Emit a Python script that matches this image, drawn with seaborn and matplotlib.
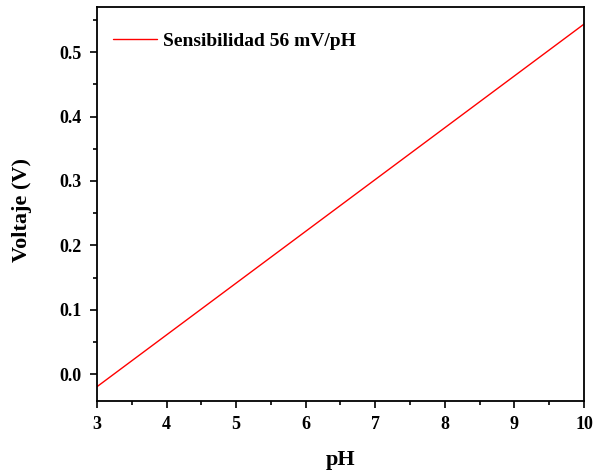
import matplotlib
matplotlib.use("Agg")
import matplotlib.pyplot as plt
import matplotlib.transforms as mtransforms
import seaborn as sns
import pandas as pd
from matplotlib.ticker import MultipleLocator, FormatStrFormatter

ph = [3, 10]
voltage = [-0.0192, 0.5434]
label = "Sensibilidad 56 mV/pH"

sns.set_style("ticks")
plt.rcParams['font.family'] = ['Liberation Serif', 'DejaVu Serif']
plt.rcParams['font.weight'] = 'bold'
for k in ['text.color', 'axes.labelcolor', 'xtick.color', 'ytick.color', 'axes.edgecolor']:
    plt.rcParams[k] = 'black'

df = pd.DataFrame({"pH": ph, "Voltaje": voltage})

fig = plt.figure(figsize=(5.95, 4.74), dpi=100)
ax = fig.add_axes([0.163, 0.154, 0.8185, 0.831])
sns.lineplot(data=df, x="pH", y="Voltaje", ax=ax, color="red", linewidth=1.0, label=label)

ax.set_xlim(3, 10)
ax.set_ylim(-0.0414, 0.5698)
ax.xaxis.set_major_locator(MultipleLocator(1))
ax.xaxis.set_minor_locator(MultipleLocator(0.5))
ax.yaxis.set_major_locator(MultipleLocator(0.1))
ax.yaxis.set_minor_locator(MultipleLocator(0.05))
ax.yaxis.set_major_formatter(FormatStrFormatter('%.1f'))
ax.tick_params(axis='both', which='major', direction='out', length=5, width=1.2,
               labelsize=13, pad=6, top=False, right=False, colors='black')
ax.tick_params(axis='both', which='minor', direction='out', length=3, width=1.2,
               top=False, right=False, colors='black')
for lbl in ax.get_xticklabels() + ax.get_yticklabels():
    lbl.set_fontweight('bold')
for s in ax.spines.values():
    s.set_visible(True)
    s.set_linewidth(1.3)
    s.set_color('black')

ax.set_xlabel("pH", fontsize=16, fontweight='bold', color='black')
ax.set_ylabel("Voltaje (V)", fontsize=16, fontweight='bold', color='black')
tx = mtransforms.blended_transform_factory(ax.transAxes, fig.transFigure)
ty = mtransforms.blended_transform_factory(fig.transFigure, ax.transAxes)
ax.xaxis.set_label_coords(0.5, (474 - 460) / 474, transform=tx)
ax.yaxis.set_label_coords(22 / 595, 0.485, transform=ty)
ax.xaxis.label.set_va('center')
ax.yaxis.label.set_va('center')

leg = ax.legend(loc='upper left', frameon=False, prop={'weight': 'bold', 'size': 14},
                handlelength=2.3, handletextpad=0.3, borderaxespad=0.0,
                bbox_to_anchor=(0.016, 0.955))

fig.savefig("out.png", dpi=100)
